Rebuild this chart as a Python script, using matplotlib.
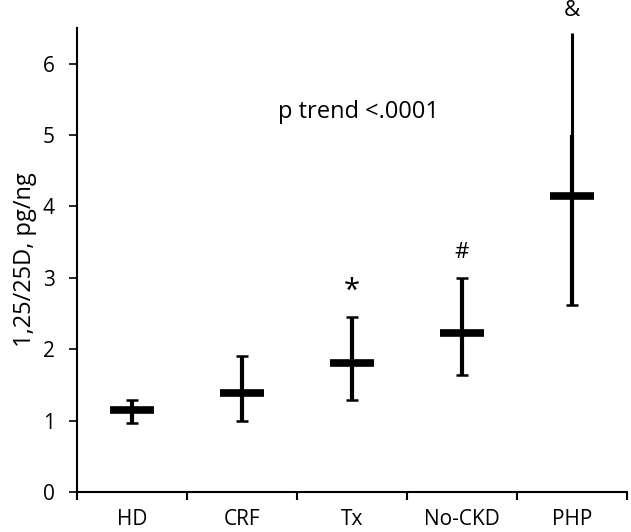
import matplotlib
matplotlib.use("Agg")
import matplotlib.pyplot as plt

# -----------------------------
# Data
# -----------------------------
groups = ["HD", "CRF", "Tx", "No-CKD", "PHP"]
medians = [1.15, 1.38, 1.80, 2.23, 4.15]
lows = [0.97, 0.99, 1.29, 1.64, 2.62]
highs = [1.29, 1.90, 2.45, 3.00, 5.00]
# PHP whisker continues (thinner) above the thick part
php_top = 6.43
marks = ["", "", "*", "#", "&"]
mark_y = [0, 0, 2.81, 3.36, 6.75]
y_ticks = [0, 1, 2, 3, 4, 5, 6]

plt.rcParams["font.family"] = ["Open Sans", "DejaVu Sans"]

fig = plt.figure(figsize=(6.31, 5.32), dpi=100)
ax = fig.add_axes([0.122, 0.0752, 0.8717, 0.8722])

x = list(range(1, len(groups) + 1))

# whiskers
ax.vlines(x, lows, highs, color="black", linewidth=3.0)
ax.vlines(x[-1], highs[-1], php_top, color="black", linewidth=2.2)

# caps (no top cap on PHP)
ax.plot(x, lows, linestyle="none", marker="_", markersize=8, markeredgewidth=1.8, color="black")
ax.plot(x[:-1], highs[:-1], linestyle="none", marker="_", markersize=8, markeredgewidth=1.8, color="black")

# medians
ax.hlines(medians, [v - 0.2 for v in x], [v + 0.2 for v in x], color="black", linewidth=5.5)

# significance marks
for xi, m, my in zip(x, marks, mark_y):
    if m:
        size = 21 if m == "*" else 16
        ax.text(xi, my, m, ha="center", va="center", fontsize=size, clip_on=False)

ax.text(3.06, 5.33, "p trend <.0001", ha="center", va="center", fontsize=17)

ax.set_xlim(0.5, 5.5)
ax.set_ylim(0, 6.5)
ax.set_yticks(y_ticks)
ax.set_xticks([v + 0.5 for v in range(0, 6)])
ax.set_xticklabels([])
ax.set_xticks(x, minor=True)
ax.set_xticklabels(groups, minor=True)
ax.tick_params(axis="x", which="major", direction="out", length=6, width=1.5)
ax.tick_params(axis="x", which="minor", length=0, pad=12, labelsize=15)
ax.tick_params(axis="y", direction="out", length=6, width=1.2, labelsize=15, pad=10)

for side in ["top", "right"]:
    ax.spines[side].set_visible(False)
ax.spines["left"].set_linewidth(1.5)
ax.spines["bottom"].set_linewidth(1.5)

ax.set_ylabel("1,25/25D, pg/ng", fontsize=17, labelpad=4)

fig.savefig("out.png", dpi=100)
